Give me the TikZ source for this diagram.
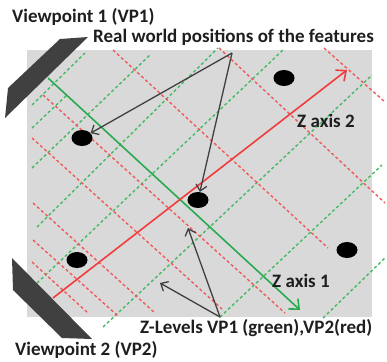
\documentclass[tikz,border=0pt]{standalone}
\usepackage{fontspec}
\setmainfont{Carlito}
\usetikzlibrary{arrows.meta,shapes.geometric}
\definecolor{bggray}{RGB}{217,217,217}
\definecolor{camgray}{RGB}{64,64,64}
\definecolor{axred}{RGB}{240,60,60}
\definecolor{axgreen}{RGB}{40,170,80}
\definecolor{dred}{RGB}{240,90,90}
\definecolor{dgreen}{RGB}{70,185,100}
\definecolor{txt}{RGB}{30,30,30}
\definecolor{arr}{RGB}{64,64,64}
\begin{document}
\begin{tikzpicture}[x=1pt,y=-1pt,
  lbl/.style={font=\fontsize{19}{22}\selectfont\bfseries, text=txt, inner sep=0pt, anchor=base west},
  gdash/.style={dgreen, line width=1.4pt, dash pattern=on 3pt off 2.5pt},
  rdash/.style={dred, line width=1.4pt, dash pattern=on 3pt off 2.5pt},
  feat/.style={ellipse, fill=black, minimum width=21pt, minimum height=16pt, inner sep=0pt},
  pointer/.style={arr, line width=1.3pt, -{Straight Barb[length=6pt,width=11pt]}},
  zaxis/.style={line width=1.6pt, -{Straight Barb[length=8pt,width=14pt]}},
  cam/.style={fill=camgray, draw=none}]
\useasboundingbox (0,0) rectangle (387,361);
% background panel
\fill[bggray] (27,50) rectangle (372,317);
% green dashed Z-levels (VP1)
\draw[gdash] (32,105) -- (85,53);
\draw[gdash] (32,128) -- (67,95);
\draw[gdash] (32,168) -- (150,55);
\draw[gdash] (37,227) -- (218,48);
\draw[gdash] (37,283) -- (283,50);
\draw[gdash] (103,327) -- (372,75);
\draw[gdash] (220,317) -- (382,165);
\draw[gdash] (323,318) -- (385,258);
% red dashed Z-levels (VP2)
\draw[rdash] (113,50) -- (328,248);
\draw[rdash] (43,95) -- (285,313);
\draw[rdash] (32,138) -- (222,309);
\draw[rdash] (33,203) -- (155,313);
\draw[rdash] (33,240) -- (118,316);
\draw[rdash] (32,262) -- (88,313);
\draw[rdash] (219,48) -- (385,203);
\draw[rdash] (324,48) -- (385,102);
% axes
\draw[zaxis, axgreen] (48,78) -- (300,310);
\draw[zaxis, axred] (53,298) -- (347,70);
% features
\node[feat] (d1) at (284,78) {};
\node[feat] (d2) at (82,138) {};
\node[feat] (d3) at (198,200) {};
\node[feat] (d4) at (77,260) {};
\node[feat] (d5) at (347,250) {};
% cameras
\fill[cam] (60,39) -- (88,37) -- (5,118) -- (8,88) -- cycle;
\fill[cam] (12,258) -- (92,339) -- (62,338) -- (13,290) -- cycle;
% labels
\node[lbl] (vp1) at (12,23) {Viewpoint 1 (VP1)};
\node[lbl] (rw) at (93,42) {Real world positions of the features};
\node[lbl] (za2) at (297,127) {Z axis 2};
\node[lbl] (za1) at (272,287) {Z axis 1};
\node[lbl] (zl) at (140,333) {Z-Levels VP1 (green),VP2(red)};
\node[lbl] (vp2) at (15,355) {Viewpoint 2 (VP2)};
% pointers
\coordinate (rwapex) at (232,53);
\draw[pointer] (rwapex) -- (d2);
\draw[pointer] (rwapex) -- (d3);
\coordinate (zlapex) at (220,317);
\coordinate (zlt1) at (188,228);
\coordinate (zlt2) at (160,283);
\draw[pointer] (zlapex) -- (zlt1);
\draw[pointer] (zlapex) -- (zlt2);
\end{tikzpicture}
\end{document}
